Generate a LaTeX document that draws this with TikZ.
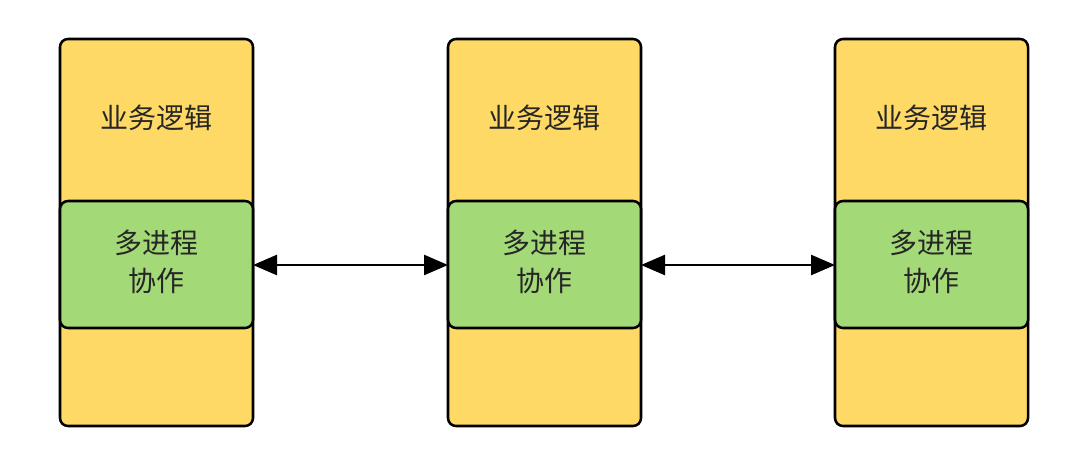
\documentclass[tikz,border=0pt]{standalone}
\usepackage{fontspec}
\newfontfamily\cjk{Noto Sans CJK SC}
\usetikzlibrary{arrows.meta}
\definecolor{ybox}{HTML}{FFD966}
\definecolor{gbox}{HTML}{A3D977}
\definecolor{txt}{HTML}{262626}
\tikzset{
  outer/.style={draw=black, line width=1.9pt, fill=ybox, rounded corners=6pt},
  inner/.style={draw=black, line width=1.9pt, fill=gbox, rounded corners=6pt},
  lbl/.style={font=\cjk\fontsize{21}{28}\selectfont, text=txt, align=center},
  link/.style={line width=1.9pt, {Triangle[length=18pt,width=15pt]}-{Triangle[length=18pt,width=15pt]}}
}
\begin{document}
\begin{tikzpicture}[x=0.75pt,y=-0.75pt]
\useasboundingbox (0,0) rectangle (1080,471);
\foreach \i/\x in {1/60,2/448,3/835}{
  \draw[outer] (\x,39) rectangle (\x+193,426);
  \node[lbl] (t\i) at (\x+96.5,118) {业务逻辑};
  \draw[inner] (\x,201) rectangle (\x+193,328);
  \coordinate (gl\i) at (\x,265);
  \coordinate (gr\i) at (\x+193,265);
  \node[lbl] (g\i) at (\x+96.5,262) {多进程\\协作};
}
\draw[link] (gr1) -- (gl2);
\draw[link] (gr2) -- (gl3);
\end{tikzpicture}
\end{document}
